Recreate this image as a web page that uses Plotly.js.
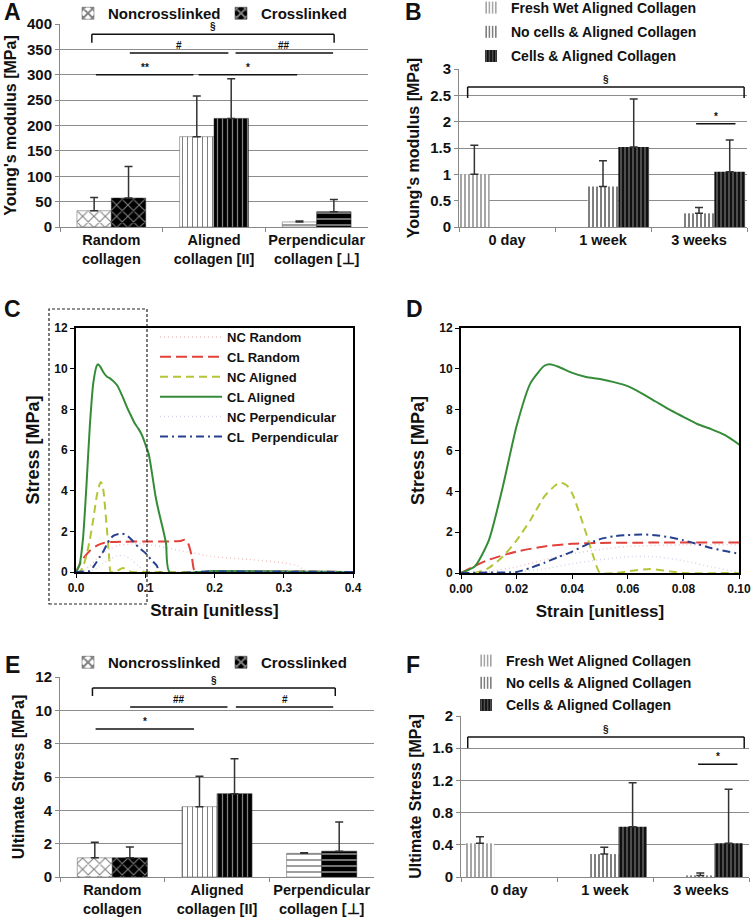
<!DOCTYPE html>
<html>
<head>
<meta charset="utf-8">
<script src="https://cdn.plot.ly/plotly-3.0.1.min.js"></script>
<style>
  body { margin: 0; background: white; }
  #fig { width: 752px; height: 920px; }
</style>
</head>
<body>
<div id="fig"></div>
<script>
const W = 752, H = 920;
const FONT = 'Liberation Sans, Arial, sans-serif';

// ---- panels A / E : scaffold type ----
const scaffolds = ['Random<br>collagen', 'Aligned<br>collagen [II]', 'Perpendicular<br>collagen [\u22a5]'];
const modulusNC = [32, 178, 10];
const modulusNCsd = [26, 80, 2];
const modulusCL = [57, 214, 30];
const modulusCLsd = [62, 78, 24];

const stressNC = [1.15, 4.22, 1.42];
const stressNCsd = [0.93, 1.82, 0.04];
const stressCL = [1.15, 5.0, 1.55];
const stressCLsd = [0.65, 2.1, 1.75];

// ---- panels B / F : culture time ----
const timepoints = ['0 day', '1 week', '3 weeks'];
const modFresh = [1.0, null, null];
const modFreshSd = [0.55, 0, 0];
const modNoCells = [null, 0.77, 0.26];
const modNoCellsSd = [0, 0.49, 0.11];
const modCells = [null, 1.52, 1.05];
const modCellsSd = [0, 0.91, 0.6];

const ultFresh = [0.42, null, null];
const ultFreshSd = [0.08, 0, 0];
const ultNoCells = [null, 0.285, 0.02];
const ultNoCellsSd = [0, 0.085, 0.03];
const ultCells = [null, 0.625, 0.42];
const ultCellsSd = [0, 0.545, 0.67];

// ---- panels C / D : stress-strain curves ----
const ncRandomX = [0, 0.01, 0.02, 0.03, 0.04, 0.05, 0.06, 0.08, 0.1, 0.15, 0.2, 0.25, 0.3, 0.32, 0.335, 0.4];
const ncRandomY = [0, 0.08, 0.3, 0.65, 0.95, 1.15, 1.3, 1.38, 1.38, 1.05, 0.75, 0.62, 0.45, 0.3, 0, 0];
const clRandomX = [0, 0.005, 0.01, 0.02, 0.03, 0.04, 0.05, 0.07, 0.1, 0.13, 0.15, 0.157, 0.162, 0.167, 0.172, 0.2, 0.25, 0.3, 0.4];
const clRandomY = [0, 0.35, 0.65, 1.05, 1.3, 1.43, 1.47, 1.49, 1.5, 1.5, 1.52, 1.58, 1.4, 0.8, 0, 0.04, 0.02, 0.03, 0];
const ncAlignedX = [0, 0.005, 0.01, 0.015, 0.02, 0.025, 0.03, 0.034, 0.036, 0.038, 0.04, 0.045, 0.048, 0.05, 0.055, 0.06, 0.068, 0.075, 0.08, 0.1, 0.2, 0.4];
const ncAlignedY = [0, 0, 0.25, 0.8, 1.6, 2.6, 3.75, 4.3, 4.43, 4.3, 3.9, 1.95, 0.65, 0, 0, 0.08, 0.2, 0.08, 0, 0, 0, 0];
const clAlignedX = [0, 0.005, 0.01, 0.015, 0.02, 0.025, 0.03, 0.032, 0.035, 0.04, 0.045, 0.05, 0.055, 0.06, 0.065, 0.07, 0.075, 0.08, 0.085, 0.09, 0.095, 0.1, 0.105, 0.11, 0.115, 0.12, 0.125, 0.13, 0.135, 0.2, 0.4];
const clAlignedY = [0, 0.33, 1.6, 4.2, 7.2, 9.3, 10.15, 10.22, 10.1, 9.8, 9.6, 9.5, 9.35, 9.15, 8.8, 8.4, 8.0, 7.65, 7.3, 7.05, 6.75, 6.3, 5.8, 4.8, 3.7, 2.9, 2.2, 1.4, 0, 0.05, 0];
const ncPerpX = [0, 0.02, 0.03, 0.04, 0.05, 0.06, 0.07, 0.08, 0.09, 0.1, 0.11, 0.4];
const ncPerpY = [0, 0.05, 0.2, 0.45, 0.65, 0.8, 0.8, 0.6, 0.3, 0.05, 0, 0];
const clPerpX = [0, 0.01, 0.02, 0.025, 0.03, 0.035, 0.04, 0.045, 0.05, 0.055, 0.06, 0.065, 0.07, 0.075, 0.08, 0.085, 0.09, 0.095, 0.1, 0.105, 0.11, 0.117, 0.12, 0.2, 0.4];
const clPerpY = [0, 0.02, 0.05, 0.25, 0.5, 0.78, 1.05, 1.38, 1.66, 1.8, 1.86, 1.89, 1.85, 1.75, 1.6, 1.42, 1.22, 1.08, 0.94, 0.75, 0.55, 0.3, 0, 0.03, 0];

// significance marks: x in category index units, y in data units
const sigA = [
  { x0: -0.19, x1: 2.17, y: 380, leg: 17, text: '\u00a7' },
  { x0: 0.18, x1: 1.14, y: 343, text: '#' },
  { x0: 1.21, x1: 2.16, y: 343, text: '##' },
  { x0: -0.15, x1: 0.80, y: 300, text: '**' },
  { x0: 0.85, x1: 1.81, y: 300, text: '*' },
];
const sigB = [
  { x0: -0.41, x1: 2.47, y: 2.66, leg: 0.21, text: '\u00a7' },
  { x0: 1.97, x1: 2.38, y: 1.96, text: '*' },
];
const sigE = [
  { x0: -0.19, x1: 2.13, y: 11.34, leg: 0.48, text: '\u00a7' },
  { x0: 0.17, x1: 1.10, y: 10.2, text: '##' },
  { x0: 1.18, x1: 2.11, y: 10.2, text: '#' },
  { x0: -0.16, x1: 0.78, y: 8.88, text: '*' },
];
const sigF = [
  { x0: -0.43, x1: 2.45, y: 1.74, leg: 0.14, text: '\u00a7' },
  { x0: 1.97, x1: 2.38, y: 1.4, text: '*' },
];

const px = (x) => x / W;
const py = (y) => 1 - y / H;
const BOLD = 'bold';

function errBar(sd) {
  return { type: 'data', symmetric: false, array: sd, arrayminus: sd.map(() => 0),
           color: '#333', thickness: 1.5, width: 4 };
}

function scaffoldTraces(nc, ncSd, cl, clSd, ax, legend) {
  const shapes = ['x', '|', '-'];
  return [
    {
      type: 'bar', x: scaffolds, y: nc, name: 'Noncrosslinked', xaxis: 'x' + ax, yaxis: 'y' + ax, legend,
      marker: { color: 'white', line: { color: '#555', width: 0.5 },
                pattern: { shape: shapes, fgcolor: 'black', size: [8, 5, 6], solidity: [0.25, 0.2, 0.25], fillmode: 'overlay' } },
      error_y: errBar(ncSd),
    },
    {
      type: 'bar', x: scaffolds, y: cl, name: 'Crosslinked', xaxis: 'x' + ax, yaxis: 'y' + ax, legend,
      marker: { color: 'black', line: { color: '#222', width: 0.5 },
                pattern: { shape: shapes, fgcolor: 'white', size: [8, 5, 6], solidity: [0.25, 0.25, 0.3], fillmode: 'overlay' } },
      error_y: errBar(clSd),
    },
  ];
}

function timeTraces(fresh, freshSd, noc, nocSd, cells, cellsSd, ax, legend, offsets, width) {
  return [
    {
      type: 'bar', x: timepoints, y: fresh, name: 'Fresh Wet Aligned Collagen', xaxis: 'x' + ax, yaxis: 'y' + ax,
      legend, legendgroup: 'g1' + ax, offset: offsets[0], width,
      marker: { color: 'white', line: { width: 0 },
                pattern: { shape: '|', fgcolor: 'black', size: 4, solidity: 0.35, fillmode: 'overlay' } },
      error_y: errBar(freshSd),
    },
    {
      type: 'bar', x: timepoints, y: noc, name: 'No cells & Aligned Collagen', xaxis: 'x' + ax, yaxis: 'y' + ax,
      legend, legendgroup: 'g2' + ax, offset: offsets[1], width,
      marker: { color: 'white', line: { width: 0 },
                pattern: { shape: '|', fgcolor: 'black', size: 4, solidity: 0.5, fillmode: 'overlay' } },
      error_y: errBar(nocSd),
    },
    {
      type: 'bar', x: timepoints, y: cells, name: 'Cells & Aligned Collagen', xaxis: 'x' + ax, yaxis: 'y' + ax,
      legend, legendgroup: 'g3' + ax, offset: offsets[2], width,
      marker: { color: '#111', line: { width: 0 },
                pattern: { shape: '|', fgcolor: 'white', size: 4, solidity: 0.25, fillmode: 'overlay' } },
      error_y: errBar(cellsSd),
    },
  ];
}

const curves = [
  { name: 'NC Random', x: ncRandomX, y: ncRandomY, color: '#f0c4c4', dash: '1px,3px', width: 1.5 },
  { name: 'CL Random', x: clRandomX, y: clRandomY, color: '#e2403a', dash: '11px,5px', width: 2 },
  { name: 'NC Aligned', x: ncAlignedX, y: ncAlignedY, color: '#b5c537', dash: '8px,5px', width: 2 },
  { name: 'CL Aligned', x: clAlignedX, y: clAlignedY, color: '#358c38', dash: 'solid', width: 2 },
  { name: 'NC Perpendicular', x: ncPerpX, y: ncPerpY, color: '#d3d6ee', dash: '1px,3px', width: 1.5 },
  { name: 'CL\u00a0 Perpendicular', x: clPerpX, y: clPerpY, color: '#26408f', dash: '8px,4px,2px,4px', width: 2 },
];

function curveTraces(ax, show) {
  return curves.map((c) => ({
    type: 'scatter', mode: 'lines', x: c.x, y: c.y, name: c.name,
    xaxis: 'x' + ax, yaxis: 'y' + ax, legend: 'legend3', showlegend: show,
    line: { color: c.color, dash: c.dash, width: c.width, shape: 'spline', smoothing: 0.6 },
  }));
}

const data = [
  ...scaffoldTraces(modulusNC, modulusNCsd, modulusCL, modulusCLsd, '', 'legend'),
  ...timeTraces(modFresh, modFreshSd, modNoCells, modNoCellsSd, modCells, modCellsSd, '2', 'legend2', [-0.5, -0.16, 0.16], 0.32),
  ...curveTraces('3', true),
  ...curveTraces('4', false),
  ...scaffoldTraces(stressNC, stressNCsd, stressCL, stressCLsd, '5', 'legend4'),
  ...timeTraces(ultFresh, ultFreshSd, ultNoCells, ultNoCellsSd, ultCells, ultCellsSd, '6', 'legend5', [-0.45, -0.155, 0.14], 0.295),
];

function catAxis(x0, x1, y) {
  return {
    domain: [px(x0), px(x1)], anchor: y, type: 'category', tickson: 'boundaries',
    ticks: 'outside', ticklen: 4, tickcolor: '#888', showline: true, linecolor: '#888',
    showgrid: false, tickangle: 0, tickfont: { size: 14.5, weight: BOLD },
  };
}
function valAxis(y0, y1, x, range, dtick, title) {
  return {
    domain: [py(y1), py(y0)], anchor: x, range, dtick, showgrid: true, gridcolor: '#8c8c8c',
    showline: true, linecolor: '#888', ticks: 'outside', ticklen: 4, tickcolor: '#888',
    zeroline: false, tickfont: { size: 15, weight: BOLD },
    title: { text: title, font: { size: 16, weight: BOLD }, standoff: 6 },
  };
}
function curveAxisX(x0, x1, y, range, dtick, fmt) {
  return {
    domain: [px(x0), px(x1)], anchor: y, range, dtick, tickformat: fmt,
    showline: true, mirror: true, linecolor: 'black', linewidth: 2, ticks: 'outside',
    ticklen: 4, tickcolor: 'black', showgrid: false, zeroline: false, tickfont: { size: 12, weight: BOLD },
    title: { text: 'Strain [unitless]', font: { size: 17, weight: BOLD }, standoff: 10 },
  };
}
function curveAxisY(y0, y1, x) {
  return {
    domain: [py(y1), py(y0)], anchor: x, range: [0, 12], dtick: 2,
    showline: true, mirror: true, linecolor: 'black', linewidth: 2, ticks: 'outside',
    ticklen: 4, tickcolor: 'black', showgrid: false, zeroline: false, tickfont: { size: 12, weight: BOLD },
    title: { text: 'Stress [MPa]', font: { size: 18, weight: BOLD }, standoff: 10 },
  };
}

const shapes = [];
const annotations = [];

function addSig(list, ax) {
  const xref = 'x' + ax, yref = 'y' + ax;
  const line = { color: '#111', width: 1.5 };
  list.forEach((s) => {
    shapes.push({ type: 'line', xref, yref, x0: s.x0, x1: s.x1, y0: s.y, y1: s.y, line });
    if (s.leg) {
      shapes.push({ type: 'line', xref, yref, x0: s.x0, x1: s.x0, y0: s.y, y1: s.y - s.leg, line });
      shapes.push({ type: 'line', xref, yref, x0: s.x1, x1: s.x1, y0: s.y, y1: s.y - s.leg, line });
    }
    annotations.push({ xref, yref, x: (s.x0 + s.x1) / 2, y: s.y, text: s.text, showarrow: false,
                       yanchor: 'bottom', font: { size: 10, weight: BOLD, color: '#111' } });
  });
}
addSig(sigA, '');
addSig(sigB, '2');
addSig(sigE, '5');
addSig(sigF, '6');

// zoom window of panel C that panel D enlarges
shapes.push({ type: 'rect', xref: 'paper', yref: 'paper', x0: px(49), x1: px(147), y0: py(604), y1: py(309),
              line: { color: '#222', width: 1.2, dash: '3px,2px' } });

[['A', 2, 12], ['B', 403, 12], ['C', 2, 309], ['D', 404, 309], ['E', 3, 665], ['F', 404, 665]].forEach(([t, x, y]) => {
  annotations.push({ xref: 'paper', yref: 'paper', x: px(x), y: py(y), text: t, showarrow: false,
                     xanchor: 'left', yanchor: 'middle', font: { size: 23, weight: BOLD } });
});

const legendBase = { xanchor: 'left', yanchor: 'top', bgcolor: 'rgba(0,0,0,0)', itemwidth: 30 };

const layout = {
  width: W, height: H,
  margin: { l: 0, r: 0, t: 0, b: 0, autoexpand: false },
  paper_bgcolor: 'white', plot_bgcolor: 'white',
  font: { family: FONT, color: '#111', weight: BOLD },
  barmode: 'group', bargap: 0.33,
  showlegend: true,
  xaxis: catAxis(60, 368, 'y'),
  yaxis: valAxis(24, 227, 'x', [0, 400], 50, "Young's modulus [MPa]"),
  xaxis2: catAxis(459, 747, 'y2'),
  yaxis2: valAxis(69, 227, 'x2', [0, 3], 0.5, "Young's modulus [MPa]"),
  xaxis3: curveAxisX(76, 353, 'y3', [0, 0.4], 0.1, '.1f'),
  yaxis3: curveAxisY(328, 572, 'x3'),
  xaxis4: curveAxisX(461, 739, 'y4', [0, 0.1], 0.02, '.2f'),
  yaxis4: curveAxisY(328, 573, 'x4'),
  xaxis5: catAxis(60, 374, 'y5'),
  yaxis5: valAxis(677, 877, 'x5', [0, 12], 2, 'Ultimate Stress [MPa]'),
  xaxis6: catAxis(461, 749, 'y6'),
  yaxis6: valAxis(716, 877, 'x6', [0, 2], 0.4, 'Ultimate Stress [MPa]'),
  legend: { ...legendBase, orientation: 'h', x: px(68), y: py(-3), font: { size: 15, weight: BOLD }, entrywidth: 108 },
  legend2: { ...legendBase, x: px(471), y: py(-8), font: { size: 14, weight: BOLD }, tracegroupgap: 3 },
  legend3: { ...legendBase, x: px(155), y: py(322), font: { size: 13, weight: BOLD }, itemwidth: 62 },
  legend4: { ...legendBase, orientation: 'h', x: px(68), y: py(646), font: { size: 15, weight: BOLD }, entrywidth: 108 },
  legend5: { ...legendBase, x: px(466), y: py(645), font: { size: 14, weight: BOLD }, tracegroupgap: 1 },
  shapes, annotations,
};

Plotly.newPlot('fig', data, layout, { staticPlot: true });
</script>
</body>
</html>
